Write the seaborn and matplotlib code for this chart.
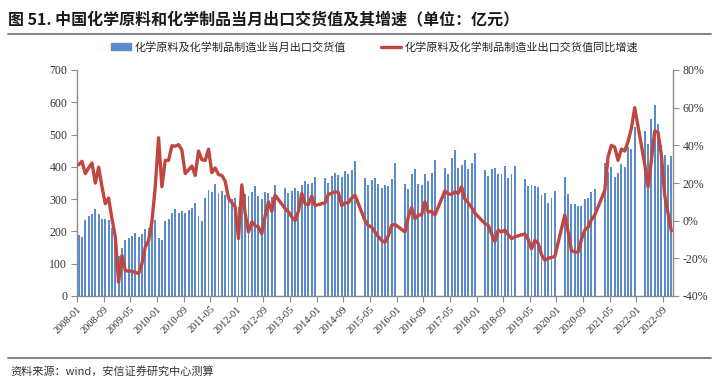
import numpy as np
import pandas as pd
import matplotlib
matplotlib.use("Agg")
import matplotlib.pyplot as plt
import matplotlib.lines as mlines
import matplotlib.patches as mpatches
from matplotlib.ticker import FuncFormatter
import seaborn as sns

# 月度数据，2008-01 起；2013 年起每年 1、2 月无数据 (None)
start_month = "2008-01"

# 化学原料及化学制品制造业当月出口交货值（亿元）
export_value = [
    190, 184, 236, 249, 253, 271, 254, 239, 239, 234, 210, 190,    # 2008
    125, 149, 175, 180, 185, 195, 184, 192, 208, 210, 220, 236,    # 2009
    181, 174, 231, 237, 258, 271, 257, 263, 258, 267, 273, 289,    # 2010
    247, 231, 303, 327, 322, 348, 320, 324, 314, 296, 299, 303,    # 2011
    275, 317, 317, 309, 322, 340, 310, 300, 321, 320, 306, 343,    # 2012
    None, None, 336, 320, 325, 336, 324, 343, 355, 348, 351, 369,  # 2013
    None, None, 367, 350, 371, 382, 374, 369, 388, 379, 390, 418,  # 2014
    None, None, 367, 343, 359, 367, 346, 333, 343, 341, 362, 411,  # 2015
    None, None, 346, 331, 377, 393, 346, 345, 379, 357, 382, 421,  # 2016
    None, None, 398, 377, 427, 452, 397, 406, 421, 393, 412, 444,  # 2017
    None, None, 391, 371, 393, 398, 377, 379, 402, 366, 377, 402,  # 2018
    None, None, 363, 340, 343, 340, 338, 312, 320, 289, 304, 324,  # 2019
    None, None, 369, 315, 285, 284, 279, 278, 299, 305, 322, 330,  # 2020
    None, None, 411, 384, 400, 370, 382, 410, 400, 460, 455, 525,  # 2021
    None, None, 512, 470, 548, 592, 533, 468, 437, 406, 434,       # 2022
]

# 化学原料及化学制品制造业出口交货值同比增速（%）
yoy_growth = [
    29.7, 31.5, 25, 28, 30.6, 20, 28.4, 18, 9, 12, 1, -8.6,                  # 2008
    -32.7, -18.5, -26.5, -26.8, -26.8, -27.5, -28, -23, -14, -10.5, -0.5, 18,  # 2009
    44, 18, 32, 32, 39.8, 39.5, 40.4, 37.5, 25, 27, 29, 24,                  # 2010
    37, 32.4, 32, 38, 25.5, 28, 24.5, 24, 21, 12, 9.5, 7.4,                  # 2011
    -9.5, 19, 4, -6, -0.6, -2.7, -3.3, -7, 2.5, 10, 5, 13.5,                 # 2012
    None, None, 6.5, 4.7, 2, 0, 5, 14.5, 9, 8.5, 13, 8,                      # 2013
    None, None, 9.5, 14, 14.5, 15.4, 15, 8, 9.5, 9.5, 12, 13.5,              # 2014
    None, None, 0, -2.5, -3.5, -6, -8.5, -10.5, -11.5, -8, -2.5, -2,         # 2015
    None, None, -6, 2, 7, 1, 3, 3, 10, 4.5, 5, 3,                            # 2016
    None, None, 15.8, 14.2, 14, 15.4, 14.5, 18, 11.5, 9.5, 7, 4,             # 2017
    None, None, -1.5, -2.5, -7, -11, -5, -6, -5, -7.5, -9.5, -8.6,           # 2018
    None, None, -7, -10, -15, -10.5, -12, -18, -21, -20, -19.5, -19,         # 2019
    None, None, 3, -6, -15.8, -16.7, -16.7, -10, -5, -3.5, 0.5, 3,           # 2020
    None, None, 16, 34, 40, 39, 32, 38, 37, 42, 49, 60,                      # 2021
    None, None, 30, 18, 32, 47.5, 47, 35, 13.5, 4, -5.5,                     # 2022
]

title = "图 51. 中国化学原料和化学制品当月出口交货值及其增速（单位：亿元）"
bar_label = "化学原料及化学制品制造业当月出口交货值"
line_label = "化学原料及化学制品制造业出口交货值同比增速"
source = "资料来源：wind，安信证券研究中心测算"

bar_color = "#5B8BCB"
line_color = "#C0463F"
axis_color = "#8C8C8C"


def main():
    sns.set_theme(style="white")
    plt.rcParams['font.family'] = ['Noto Sans CJK SC', 'DejaVu Sans']

    months = pd.period_range(start_month, periods=len(export_value), freq="M").strftime("%Y-%m")
    df = pd.DataFrame({
        "month": months,
        "pos": np.arange(len(months)) + 0.5,
        "value": pd.to_numeric(pd.Series(export_value), errors="coerce"),
        "growth": pd.to_numeric(pd.Series(yoy_growth), errors="coerce"),
    })
    df_bar = df.dropna(subset=["value"])
    df_line = df.dropna(subset=["growth"])

    fig = plt.figure(figsize=(7.2, 3.84), dpi=100)
    ax = fig.add_axes([77 / 720, 1 - 296 / 384, 596 / 720, 226 / 384])

    sns.barplot(data=df_bar, x="pos", y="value", native_scale=True, width=0.58,
                color=bar_color, saturation=1, linewidth=0, edgecolor="none", ax=ax)

    ax2 = ax.twinx()
    sns.lineplot(data=df_line, x="pos", y="growth", ax=ax2, color=line_color,
                 linewidth=2.4, estimator=None, sort=True)
    for ln in ax2.get_lines():
        ln.set_solid_joinstyle("round")
        ln.set_solid_capstyle("round")

    ax.set_xlim(0, len(months))
    ax.set_ylim(0, 700)
    ax.set_yticks(range(0, 701, 100))
    ax2.set_ylim(-40, 80)
    ax2.set_yticks(range(-40, 81, 20))
    ax2.yaxis.set_major_formatter(FuncFormatter(lambda v, p: f"{v:.0f}%"))

    tick_pos = np.arange(0, len(months), 8)
    ax.set_xticks(tick_pos)
    ax.set_xticklabels([months[i] for i in tick_pos], rotation=45, ha="right",
                       rotation_mode="anchor", fontsize=7.5, family="Liberation Serif",
                       color="#333333")
    ax.set_xlabel("")
    ax.set_ylabel("")
    ax2.set_ylabel("")

    for a in (ax, ax2):
        a.spines["top"].set_visible(False)
        for s in ("left", "right", "bottom"):
            a.spines[s].set_color(axis_color)
            a.spines[s].set_linewidth(1.0)
        a.grid(False)
    ax.spines["right"].set_visible(False)
    ax2.spines["left"].set_visible(False)
    ax2.spines["bottom"].set_visible(False)

    ax.tick_params(axis="x", which="major", direction="out", length=4, width=0.8,
                   color=axis_color, pad=2, bottom=True)
    ax.tick_params(axis="y", direction="out", length=4, width=0.8, color=axis_color,
                   labelsize=8.5, labelcolor="#333333", pad=3, left=True)
    ax2.tick_params(axis="y", direction="out", length=4, width=0.8, color=axis_color,
                    labelsize=8.5, labelcolor="#333333", pad=3, right=True)
    for lab in ax.get_yticklabels() + ax2.get_yticklabels():
        lab.set_family("Liberation Serif")

    handles = [
        mpatches.Patch(color=bar_color, label=bar_label),
        mlines.Line2D([], [], color=line_color, linewidth=2.4, label=line_label),
    ]
    fig.legend(handles=handles, loc="center", bbox_to_anchor=(0.52, 1 - 47 / 384),
               ncol=2, frameon=False, fontsize=8, handlelength=1.8, handleheight=0.5,
               handletextpad=0.3, columnspacing=3.2)

    fig.text(8 / 720, 1 - 19 / 384, title, fontsize=11.5, fontweight="bold",
             va="center", ha="left", color="#1a1a1a")
    fig.add_artist(mlines.Line2D([8 / 720, 711 / 720], [1 - 34 / 384] * 2,
                                 color="#7a7a7a", linewidth=1.3))
    fig.add_artist(mlines.Line2D([8 / 720, 711 / 720], [1 - 358 / 384] * 2,
                                 color="#7a7a7a", linewidth=1.3))
    fig.text(10 / 720, 1 - 371 / 384, source, fontsize=8, style="italic",
             va="center", ha="left", color="#333333")

    fig.savefig("out.png", dpi=100)
    plt.close(fig)


if __name__ == "__main__":
    main()
